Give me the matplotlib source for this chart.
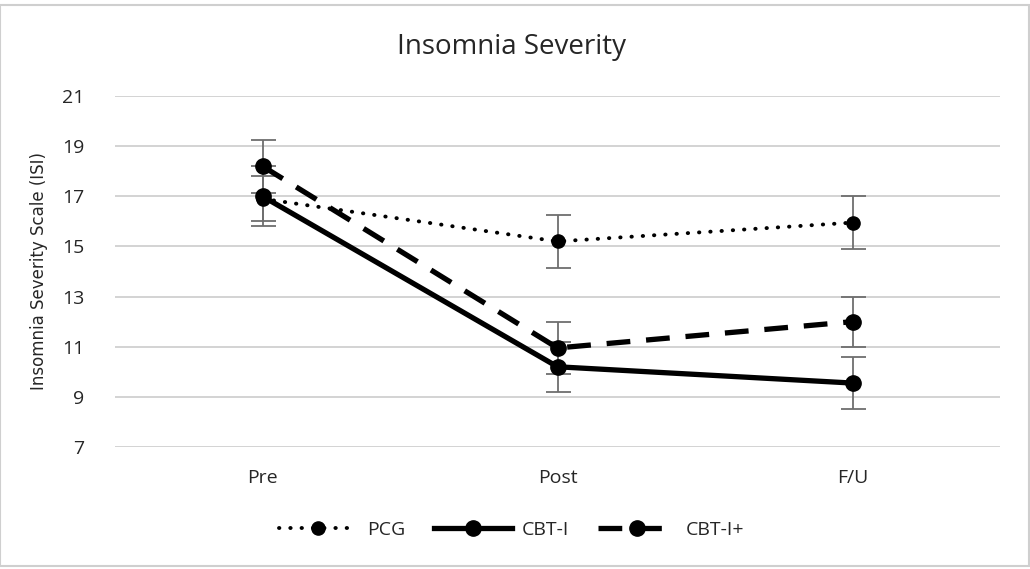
import matplotlib
matplotlib.use("Agg")
import matplotlib.pyplot as plt
from matplotlib.patches import Rectangle

plt.rcParams['font.family'] = ['Open Sans', 'DejaVu Sans']

timepoints = ["Pre", "Post", "F/U"]
pcg_mean = [16.9, 15.2, 15.95]
pcg_err = [0.9, 1.07, 1.05]
cbti_mean = [17.0, 10.2, 9.55]
cbti_err = [1.2, 1.0, 1.03]
cbtiplus_mean = [18.2, 10.95, 12.0]
cbtiplus_err = [1.05, 1.05, 1.0]
yticks = [7, 9, 11, 13, 15, 17, 19, 21]

fig = plt.figure(figsize=(10.30, 5.69), dpi=100)
ax = fig.add_axes([115 / 1030, 1 - 447 / 569, 885 / 1030, 351 / 569])

x = list(range(len(timepoints)))
err_kw = dict(ecolor='#6e6e6e', elinewidth=1.3, capsize=9, capthick=1.3, zorder=2)

ax.errorbar(x, pcg_mean, yerr=pcg_err, fmt='none', **err_kw)
ax.errorbar(x, cbti_mean, yerr=cbti_err, fmt='none', **err_kw)
ax.errorbar(x, cbtiplus_mean, yerr=cbtiplus_err, fmt='none', **err_kw)

ax.plot(x, pcg_mean, color='black', lw=2.8, linestyle=(0, (0.1, 2.8)),
        dash_capstyle='round', marker='o', markersize=9.5, label='PCG', zorder=3)
ax.plot(x, cbti_mean, color='black', lw=3.8, linestyle='-',
        marker='o', markersize=11, label='CBT-I', zorder=4)
ax.plot(x, cbtiplus_mean, color='black', lw=3.8, linestyle=(0, (4.5, 3.0)),
        marker='o', markersize=11, label='CBT-I+', zorder=4)

ax.set_xlim(-0.5, 2.5)
ax.set_ylim(7, 21)
ax.set_yticks(yticks)
ax.set_yticklabels([str(v) for v in yticks])
ax.set_xticks(x)
ax.set_xticklabels(timepoints)
ax.tick_params(axis='both', length=0, labelsize=14, colors='#262626')
ax.tick_params(axis='y', pad=22)
ax.tick_params(axis='x', pad=16)
ax.grid(axis='y', color='#d3d3d3', lw=1.4)
ax.set_axisbelow(True)
for s in ax.spines.values():
    s.set_visible(False)

ax.set_ylabel('Insomnia Severity Scale (ISI)', fontsize=12,
              family=['Liberation Sans Narrow', 'DejaVu Sans'], color='#262626',
              labelpad=10)
fig.text(0.497, 1 - 47 / 569, 'Insomnia Severity', ha='center', va='center',
         fontsize=20, color='#262626')

fig.legend(loc='center', bbox_to_anchor=(0.497, 1 - 530 / 569), ncol=3,
           frameon=False, fontsize=14, handlelength=4.0, columnspacing=1.5,
           handletextpad=0.5, labelcolor='#262626')

fig.patches.append(Rectangle((0, 0.006), 0.999, 0.986, transform=fig.transFigure,
                             fill=False, edgecolor='#cfcfcf', lw=1.5))

fig.savefig('out.png', dpi=100)
